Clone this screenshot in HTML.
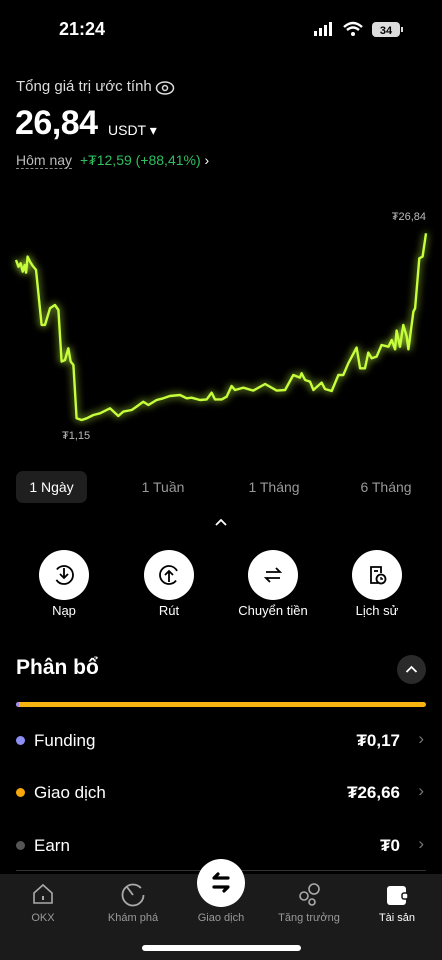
<!DOCTYPE html>
<html><head><meta charset="utf-8">
<style>
*{margin:0;padding:0;box-sizing:border-box}
body{width:442px;height:960px;background:#000;color:#fff;font-family:"Liberation Sans","DejaVu Sans",sans-serif;position:relative;overflow:hidden}
.a{position:absolute}
.circ{position:absolute;width:50px;height:50px;border-radius:50%;background:#fff;display:flex;align-items:center;justify-content:center}
.lbl{position:absolute;font-size:13px;width:100px;text-align:center;top:603px}
.row{position:absolute;left:16px;width:410px;height:24px;font-size:17px}
.row .dot{position:absolute;left:0;top:7px;width:9px;height:9px;border-radius:50%}
.row .n{position:absolute;left:18px;top:2px}
.row .v{position:absolute;right:26px;top:2px;font-weight:bold}
.row .c{position:absolute;right:2px;top:0;color:#777;font-size:17px}
.nav{position:absolute;font-size:11px;color:#999;width:90px;text-align:center;top:912px}
</style></head><body>
<div class="a" style="left:59px;top:19px;font-size:18px;font-weight:bold">21:24</div>
<svg class="a" style="left:312px;top:20px" width="95" height="20">
<rect x="2" y="11" width="3" height="5" fill="#fff"/><rect x="7" y="8" width="3" height="8" fill="#fff"/><rect x="12" y="5" width="3" height="11" fill="#fff"/><rect x="17" y="2" width="3" height="14" fill="#fff"/>
<path d="M32 7 Q41 -1 50 7 M35 10 Q41 5 47 10" stroke="#fff" stroke-width="2.5" fill="none"/><circle cx="41" cy="14" r="2" fill="#fff"/>
<rect x="60" y="2" width="28" height="15" rx="4" fill="#ddd"/><text x="74" y="14" font-size="11" font-weight="bold" text-anchor="middle" fill="#000" font-family="Liberation Sans">34</text><rect x="89" y="7" width="2" height="5" fill="#ddd"/></svg>

<div class="a" style="left:16px;top:78px;font-size:15px;color:#ddd">Tổng giá trị ước tính</div>
<svg class="a" style="left:155px;top:80px" width="20" height="16"><ellipse cx="10" cy="8" rx="8.5" ry="6" stroke="#ddd" stroke-width="1.5" fill="none"/><circle cx="10" cy="8" r="2.5" stroke="#ddd" stroke-width="1.5" fill="none"/></svg>
<div class="a" style="left:15px;top:104px;font-size:34px;font-weight:bold;letter-spacing:-0.5px">26,84</div>
<div class="a" style="left:108px;top:122px;font-size:14px">USDT ▾</div>
<div class="a" style="left:16px;top:152px;font-size:14px;color:#bbb;border-bottom:1px dashed #888">Hôm nay</div>
<div class="a" style="left:80px;top:152px;font-size:14px;color:#2fbf5f">+₮12,59 (+88,41%) <span style="color:#fff">›</span></div>

<svg class="a" id="chart" style="left:0;top:200px" width="442" height="250">
<defs><filter id="glow" x="-10%" y="-10%" width="120%" height="120%"><feGaussianBlur stdDeviation="4" result="b"/><feMerge><feMergeNode in="b"/><feMergeNode in="SourceGraphic"/></feMerge></filter></defs>
<g id="lineG"></g>
<text x="426" y="20" font-size="11" fill="#bbb" text-anchor="end" font-family="Liberation Sans">₮26,84</text>
<text x="62" y="239" font-size="11" fill="#bbb" font-family="Liberation Sans">₮1,15</text>
</svg>
<script>
const hours=[0,0.14,0.27,0.39,0.51,0.59,0.68,0.82,0.98,1.17,1.50,1.70,1.99,2.28,2.48,2.67,2.87,3.06,3.20,3.36,3.55,3.84,4.14,4.53,4.92,5.50,5.99,6.28,6.77,7.06,7.45,7.75,8.23,8.62,9.01,9.60,9.99,10.28,10.77,11.16,11.45,11.65,12.04,12.33,12.62,12.82,13.31,13.89,14.58,15.26,15.75,16.23,16.62,16.72,16.92,17.21,17.41,17.89,18.09,18.48,18.87,19.16,19.45,19.94,20.14,20.43,20.62,20.82,21.11,21.40,21.80,21.99,22.19,22.28,22.48,22.67,22.87,22.97,23.26,23.36,23.61,23.80,24];
const balance=[23.17,22.25,22.71,21.57,22.48,21.43,23.63,22.94,22.35,21.80,14.23,14.23,16.52,16.98,16.29,9.18,9.41,11.01,9.18,8.72,1.38,1.15,1.38,1.84,2.07,2.76,1.70,2.30,2.53,2.99,3.67,3.21,3.90,4.13,4.45,4.59,4.13,4.22,3.90,3.99,4.91,3.99,3.99,4.36,5.83,5.28,5.60,5.19,6.11,5.19,5.28,7.34,6.98,7.57,6.66,6.43,5.28,6.29,5.42,5.14,7.34,7.34,8.95,11.11,8.26,8.26,10.42,9.64,9.87,11.47,11.24,12.16,10.88,13.45,11.24,14.23,12.62,10.88,16.06,16.52,23.40,23.63,26.84];
const xDomain=[0,24], yDomain=[1.15,26.84];
function xs(t){return 16+(t-xDomain[0])/(xDomain[1]-xDomain[0])*410;}
function ys(v){return 220-(v-yDomain[0])/(yDomain[1]-yDomain[0])*186.7;}
const d=hours.map((t,i)=>(i?'L':'M')+xs(t).toFixed(1)+' '+ys(balance[i]).toFixed(1)).join(' ');
const p=document.createElementNS('http://www.w3.org/2000/svg','path');


p.setAttribute('d',d);p.setAttribute('fill','none');p.setAttribute('stroke','#c6ff3a');p.setAttribute('stroke-width','2.4');p.setAttribute('stroke-linejoin','round');p.setAttribute('filter','url(#glow)');
document.getElementById('lineG').appendChild(p);
</script>

<div class="a" style="left:16px;top:471px;width:71px;height:32px;border-radius:7px;background:#1f1f1f;font-size:14px;text-align:center;line-height:32px">1 Ngày</div>
<div class="a" style="left:123px;top:479px;width:80px;text-align:center;font-size:14px;color:#999">1 Tuần</div>
<div class="a" style="left:234px;top:479px;width:80px;text-align:center;font-size:14px;color:#999">1 Tháng</div>
<div class="a" style="left:346px;top:479px;width:80px;text-align:center;font-size:14px;color:#999">6 Tháng</div>
<svg class="a" style="left:214px;top:518px" width="14" height="9"><path d="M2 7 L7 2 L12 7" stroke="#fff" stroke-width="1.8" fill="none"/></svg>

<div class="circ" style="left:39px;top:550px"><svg width="24" height="24"><circle cx="12" cy="12" r="9" stroke="#000" stroke-width="1.8" fill="none" stroke-dasharray="46 11" stroke-dashoffset="-34"/><path d="M12 5 V15 M8 11 L12 15 L16 11" stroke="#000" stroke-width="1.8" fill="none"/></svg></div>
<div class="circ" style="left:144px;top:550px"><svg width="24" height="24"><circle cx="12" cy="12" r="9" stroke="#000" stroke-width="1.8" fill="none" stroke-dasharray="46 11" stroke-dashoffset="-6"/><path d="M12 19 V8 M8 12 L12 8 L16 12" stroke="#000" stroke-width="1.8" fill="none"/></svg></div>
<div class="circ" style="left:248px;top:550px"><svg width="24" height="24"><path d="M5 9 H19 L15 5 M19 15 H5 L9 19" stroke="#000" stroke-width="1.8" fill="none"/></svg></div>
<div class="circ" style="left:352px;top:550px"><svg width="24" height="24"><path d="M13 20 H6 V4 H16 V10" stroke="#000" stroke-width="1.8" fill="none"/><path d="M9 8 H13" stroke="#000" stroke-width="1.8"/><circle cx="16" cy="16" r="4.5" stroke="#000" stroke-width="1.8" fill="none"/><path d="M16 14 V16 H18" stroke="#000" stroke-width="1.4" fill="none"/></svg></div>
<div class="lbl" style="left:14px">Nạp</div>
<div class="lbl" style="left:119px">Rút</div>
<div class="lbl" style="left:223px">Chuyển tiền</div>
<div class="lbl" style="left:327px">Lịch sử</div>

<div class="a" style="left:16px;top:656px;font-size:21px;font-weight:bold">Phân bổ</div>
<div class="a" style="left:397px;top:655px;width:29px;height:29px;border-radius:50%;background:#2a2a2a"><svg width="29" height="29"><path d="M9.5 17 L14.5 12 L19.5 17" stroke="#fff" stroke-width="1.8" fill="none"/></svg></div>
<div class="a" style="left:16px;top:702px;width:410px;height:5px;border-radius:3px;background:#f7b30f;overflow:hidden"><div style="width:3px;height:5px;background:#9a8cf0"></div></div>

<div class="row" style="top:729px"><div class="dot" style="background:#8d8ff5"></div><div class="n">Funding</div><div class="v">₮0,17</div><div class="c">›</div></div>
<div class="row" style="top:781px"><div class="dot" style="background:#f7a70c"></div><div class="n">Giao dịch</div><div class="v">₮26,66</div><div class="c">›</div></div>
<div class="row" style="top:834px"><div class="dot" style="background:#555"></div><div class="n">Earn</div><div class="v">₮0</div><div class="c">›</div></div>
<div class="a" style="left:16px;top:870px;width:410px;height:1px;background:#333"></div>

<div class="a" style="left:0;top:874px;width:442px;height:86px;background:#1b1b1b"></div>
<svg class="a" style="left:32px;top:883px" width="22" height="22"><path d="M2 10 L11 2 L20 10 V20 H2 Z" stroke="#aaa" stroke-width="1.6" fill="none"/><rect x="10" y="13" width="2" height="4" fill="#aaa"/></svg>
<svg class="a" style="left:120px;top:882px" width="26" height="26"><circle cx="13" cy="13" r="10.5" stroke="#aaa" stroke-width="1.8" fill="none" stroke-dasharray="58 8"/><path d="M7 5 L13 13" stroke="#aaa" stroke-width="1.8"/></svg>
<svg class="a" style="left:297px;top:882px" width="26" height="26"><circle cx="17" cy="7" r="5" stroke="#aaa" stroke-width="1.6" fill="none"/><circle cx="7" cy="14" r="4" stroke="#aaa" stroke-width="1.6" fill="none"/><circle cx="15" cy="20" r="3" stroke="#aaa" stroke-width="1.6" fill="none"/></svg>
<svg class="a" style="left:386px;top:885px" width="24" height="22"><rect x="1" y="1" width="19" height="19" rx="3" fill="#fff"/><rect x="16" y="8" width="6" height="6" rx="2" fill="#fff" stroke="#1b1b1b" stroke-width="1.5"/></svg>
<div class="a" style="left:197px;top:859px;width:48px;height:48px;border-radius:50%;background:#fff"><svg width="48" height="48"><path d="M31 19 H17 L21 15 M17 28 H31 L27 32" stroke="#000" stroke-width="3.2" fill="none" stroke-linecap="round" stroke-linejoin="round"/></svg></div>
<div class="nav" style="left:-2px">OKX</div>
<div class="nav" style="left:88px">Khám phá</div>
<div class="nav" style="left:176px">Giao dịch</div>
<div class="nav" style="left:264px">Tăng trưởng</div>
<div class="nav" style="left:352px;color:#fff">Tài sản</div>
<div class="a" style="left:142px;top:945px;width:159px;height:6px;border-radius:3px;background:#fff"></div>
</body></html>
